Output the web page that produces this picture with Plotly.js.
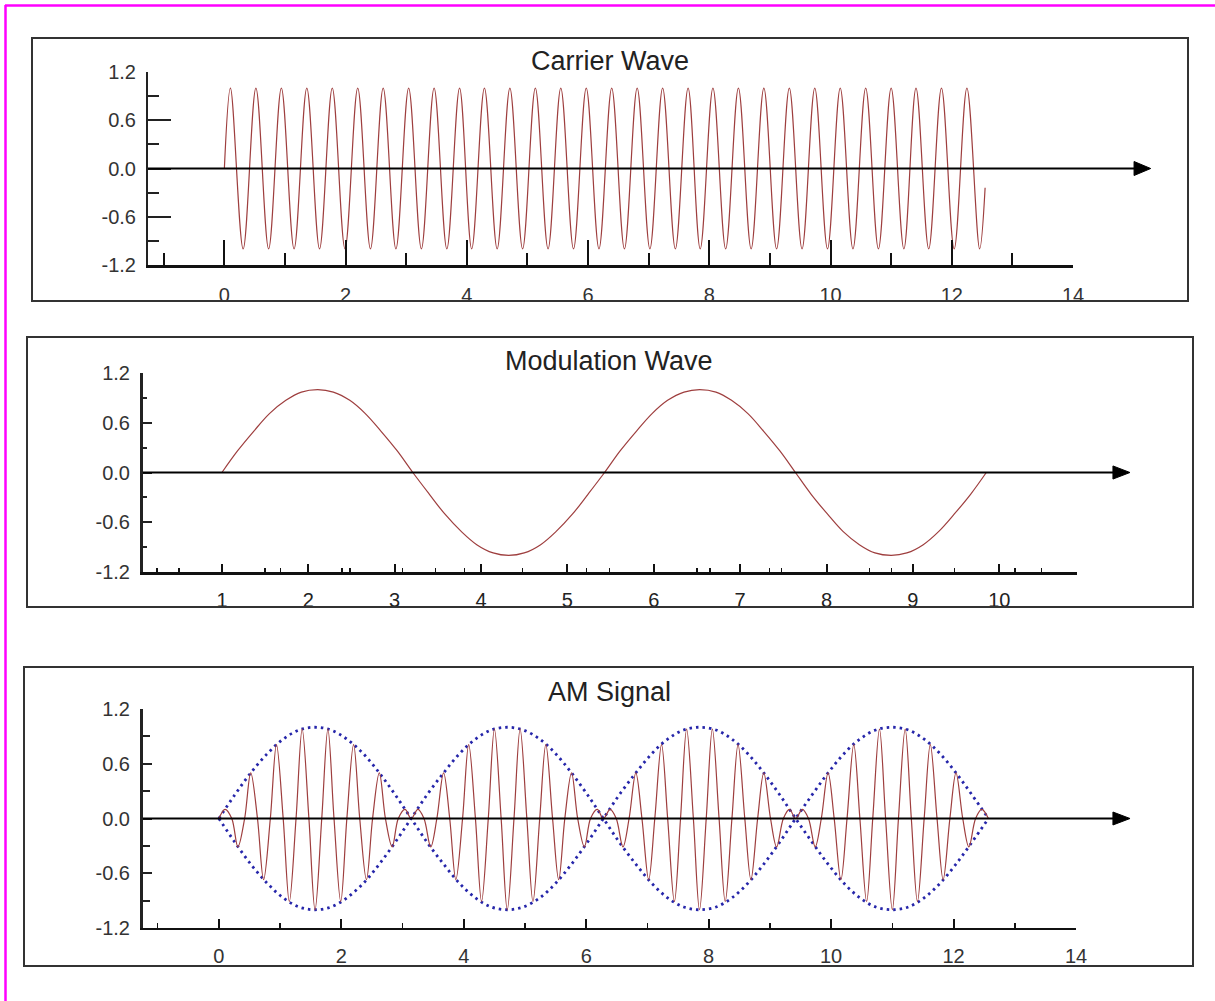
<!DOCTYPE html>
<html>
<head>
<meta charset="utf-8">
<script src="https://cdn.plot.ly/plotly-3.0.1.min.js"></script>
<style>
  html, body { margin: 0; padding: 0; background: #ffffff; }
  #chart { width: 1215px; height: 1001px; }
</style>
</head>
<body>
<div id="chart"></div>
<script>
// ---------------- DATA ----------------
// Panel titles
const panelTitles = ['Carrier Wave', 'Modulation Wave', 'AM Signal'];

// Y tick labels (shared by all three panels)
const yTickVals = [-1.2, -0.6, 0, 0.6, 1.2];
const yTickText = ['-1.2', '-0.6', '0.0', '0.6', '1.2'];
const yMinorVals = [-0.9, -0.3, 0.3, 0.9];

// Panel 2 irregular minor tick positions along its x axis
const modMinorVals = [0.25, 0.5, 1.5, 1.68, 2.39, 2.48, 3.09, 3.47, 3.81, 4.48, 5.22, 5.49,
  6.5, 6.65, 7.34, 7.48, 8.5, 8.75, 9.48, 10.18, 10.49];

// Carrier wave: start, every crest / trough, end
const carrierT = [0,
  0.10, 0.31, 0.52, 0.73, 0.94, 1.15, 1.36, 1.57, 1.78, 1.99,
  2.20, 2.41, 2.62, 2.83, 3.04, 3.25, 3.46, 3.67, 3.88, 4.08,
  4.29, 4.50, 4.71, 4.92, 5.13, 5.34, 5.55, 5.76, 5.97, 6.18,
  6.39, 6.60, 6.81, 7.02, 7.23, 7.44, 7.65, 7.85, 8.06, 8.27,
  8.48, 8.69, 8.90, 9.11, 9.32, 9.53, 9.74, 9.95, 10.16, 10.37,
  10.58, 10.79, 11.00, 11.21, 11.41, 11.62, 11.83, 12.04, 12.25, 12.46,
  12.55];
const carrierV = [0,
  1, -1, 1, -1, 1, -1, 1, -1, 1, -1,
  1, -1, 1, -1, 1, -1, 1, -1, 1, -1,
  1, -1, 1, -1, 1, -1, 1, -1, 1, -1,
  1, -1, 1, -1, 1, -1, 1, -1, 1, -1,
  1, -1, 1, -1, 1, -1, 1, -1, 1, -1,
  1, -1, 1, -1, 1, -1, 1, -1, 1, -1,
  -0.24];

// Modulation wave (panel 2 has its own x scale 1 .. 10)
const modT = [1, 1.18, 1.37, 1.55, 1.74, 1.92, 2.11, 2.29, 2.48, 2.66, 2.84, 3.03, 3.21,
  3.40, 3.58, 3.77, 3.95, 4.14, 4.32, 4.50, 4.69, 4.87, 5.06, 5.24, 5.43,
  5.61, 5.80, 5.98, 6.16, 6.35, 6.53, 6.72, 6.90, 7.09, 7.27, 7.46, 7.64,
  7.82, 8.01, 8.19, 8.38, 8.56, 8.75, 8.93, 9.12, 9.30, 9.48, 9.67, 9.85];
const modV = [0, 0.26, 0.5, 0.71, 0.87, 0.97, 1, 0.97, 0.87, 0.71, 0.5, 0.26, 0,
  -0.26, -0.5, -0.71, -0.87, -0.97, -1, -0.97, -0.87, -0.71, -0.5, -0.26, 0,
  0.26, 0.5, 0.71, 0.87, 0.97, 1, 0.97, 0.87, 0.71, 0.5, 0.26, 0,
  -0.26, -0.5, -0.71, -0.87, -0.97, -1, -0.97, -0.87, -0.71, -0.5, -0.26, 0];

// AM signal samples
const amT = [0,
  0.10, 0.21, 0.31, 0.42, 0.52, 0.63, 0.73, 0.84, 0.94, 1.05,
  1.15, 1.26, 1.36, 1.47, 1.57, 1.68, 1.78, 1.88, 1.99, 2.09,
  2.20, 2.30, 2.41, 2.51, 2.62, 2.72, 2.83, 2.93, 3.04, 3.14,
  3.25, 3.35, 3.46, 3.56, 3.67, 3.77, 3.87, 3.98, 4.08, 4.19,
  4.29, 4.40, 4.50, 4.61, 4.71, 4.82, 4.92, 5.03, 5.13, 5.24,
  5.34, 5.45, 5.55, 5.65, 5.76, 5.86, 5.97, 6.07, 6.18, 6.28,
  6.39, 6.49, 6.60, 6.70, 6.81, 6.91, 7.02, 7.12, 7.23, 7.33,
  7.44, 7.54, 7.64, 7.75, 7.85, 7.96, 8.06, 8.17, 8.27, 8.38,
  8.48, 8.59, 8.69, 8.80, 8.90, 9.01, 9.11, 9.22, 9.32, 9.42,
  9.53, 9.63, 9.74, 9.84, 9.95, 10.05, 10.16, 10.26, 10.37, 10.47,
  10.58, 10.68, 10.79, 10.89, 11.00, 11.10, 11.21, 11.31, 11.41, 11.52,
  11.62, 11.73, 11.83, 11.94, 12.04, 12.15, 12.25, 12.36, 12.46, 12.57];
const amV = [0,
  0.10, 0, -0.31, 0, 0.5, 0, -0.67, 0, 0.81, 0, -0.91, 0, 0.98, 0, -1, 0, 0.98, 0, -0.91, 0, 0.81, 0, -0.67, 0, 0.5, 0, -0.31, 0, 0.10, 0,
  0.10, 0, -0.31, 0, 0.5, 0, -0.67, 0, 0.81, 0, -0.91, 0, 0.98, 0, -1, 0, 0.98, 0, -0.91, 0, 0.81, 0, -0.67, 0, 0.5, 0, -0.31, 0, 0.10, 0,
  0.10, 0, -0.31, 0, 0.5, 0, -0.67, 0, 0.81, 0, -0.91, 0, 0.98, 0, -1, 0, 0.98, 0, -0.91, 0, 0.81, 0, -0.67, 0, 0.5, 0, -0.31, 0, 0.10, 0,
  0.10, 0, -0.31, 0, 0.5, 0, -0.67, 0, 0.81, 0, -0.91, 0, 0.98, 0, -1, 0, 0.98, 0, -0.91, 0, 0.81, 0, -0.67, 0, 0.5, 0, -0.31, 0, 0.10, 0];

// Envelope (dotted) of the AM signal
const envT = [0, 0.26, 0.52, 0.79, 1.05, 1.31, 1.57, 1.83, 2.09, 2.36, 2.62, 2.88, 3.14,
  3.40, 3.67, 3.93, 4.19, 4.45, 4.71, 4.97, 5.24, 5.50, 5.76, 6.02, 6.28,
  6.54, 6.81, 7.07, 7.33, 7.59, 7.85, 8.12, 8.38, 8.64, 8.90, 9.16, 9.42,
  9.69, 9.95, 10.21, 10.47, 10.73, 11.00, 11.26, 11.52, 11.78, 12.04, 12.30, 12.57];
const envUpper = [0, 0.26, 0.5, 0.71, 0.87, 0.97, 1, 0.97, 0.87, 0.71, 0.5, 0.26, 0,
  -0.26, -0.5, -0.71, -0.87, -0.97, -1, -0.97, -0.87, -0.71, -0.5, -0.26, 0,
  0.26, 0.5, 0.71, 0.87, 0.97, 1, 0.97, 0.87, 0.71, 0.5, 0.26, 0,
  -0.26, -0.5, -0.71, -0.87, -0.97, -1, -0.97, -0.87, -0.71, -0.5, -0.26, 0];
const envLower = [0, -0.26, -0.5, -0.71, -0.87, -0.97, -1, -0.97, -0.87, -0.71, -0.5, -0.26, 0,
  0.26, 0.5, 0.71, 0.87, 0.97, 1, 0.97, 0.87, 0.71, 0.5, 0.26, 0,
  -0.26, -0.5, -0.71, -0.87, -0.97, -1, -0.97, -0.87, -0.71, -0.5, -0.26, 0,
  0.26, 0.5, 0.71, 0.87, 0.97, 1, 0.97, 0.87, 0.71, 0.5, 0.26, 0];

// ---------------- STYLE / LAYOUT ----------------
const W = 1215, H = 1001;
const px = v => v / W;
const py = v => 1 - v / H;
const FONT = 'Liberation Sans, Arial, Helvetica, sans-serif';
const waveColor = 'rgb(158,62,62)';
const envColor = 'rgb(38,38,170)';

const traces = [
  { x: carrierT, y: carrierV, xaxis: 'x', yaxis: 'y', type: 'scatter', mode: 'lines',
    line: { color: waveColor, width: 1.2, shape: 'spline', simplify: false }, hoverinfo: 'skip' },
  { x: modT, y: modV, xaxis: 'x2', yaxis: 'y2', type: 'scatter', mode: 'lines',
    line: { color: waveColor, width: 1.2, shape: 'spline', simplify: false }, hoverinfo: 'skip' },
  { x: envT, y: envUpper, xaxis: 'x3', yaxis: 'y3', type: 'scatter', mode: 'lines',
    line: { color: envColor, width: 2.8, dash: '2.5px,4px', shape: 'spline', simplify: false }, hoverinfo: 'skip' },
  { x: envT, y: envLower, xaxis: 'x3', yaxis: 'y3', type: 'scatter', mode: 'lines',
    line: { color: envColor, width: 2.8, dash: '2.5px,4px', shape: 'spline', simplify: false }, hoverinfo: 'skip' },
  { x: amT, y: amV, xaxis: 'x3', yaxis: 'y3', type: 'scatter', mode: 'lines',
    line: { color: waveColor, width: 1.2, shape: 'spline', simplify: false }, hoverinfo: 'skip' }
];

function yAxisCfg(domain, anchor, len, minorLen, lw) {
  return {
    domain: domain, anchor: anchor, range: [-1.2, 1.2], fixedrange: true,
    tickmode: 'array', tickvals: yTickVals, ticktext: yTickText,
    ticks: 'inside', ticklen: len, tickwidth: 2, tickcolor: '#222',
    minor: { tickmode: 'array', tickvals: yMinorVals, ticks: 'inside', ticklen: minorLen, tickwidth: 2, tickcolor: '#222' },
    showline: true, linecolor: '#222', linewidth: lw,
    showgrid: false, zeroline: false,
    ticklabelstandoff: 6,
    tickfont: { family: FONT, size: 20, color: '#333' }
  };
}

const layout = {
  width: W, height: H,
  margin: { l: 0, r: 0, t: 0, b: 0, pad: 0 },
  paper_bgcolor: '#ffffff', plot_bgcolor: 'rgba(0,0,0,0)',
  showlegend: false,
  xaxis: {
    domain: [px(148), px(1073)], anchor: 'y', range: [-1.26, 14], fixedrange: true,
    tickmode: 'linear', tick0: 0, dtick: 2,
    ticks: 'inside', ticklen: 25, tickwidth: 2, tickcolor: '#111',
    minor: { tickmode: 'linear', tick0: 0, dtick: 1, ticks: 'inside', ticklen: 12, tickwidth: 2, tickcolor: '#111' },
    showline: true, linecolor: '#111', linewidth: 3,
    showgrid: false, zeroline: false, ticklabelstandoff: 10,
    tickfont: { family: FONT, size: 20, color: '#333' }
  },
  yaxis: yAxisCfg([py(265), py(72)], 'x', 23, 11, 2),
  xaxis2: {
    domain: [px(143), px(1077)], anchor: 'y2', range: [0.086, 10.9], fixedrange: true,
    tickmode: 'linear', tick0: 0, dtick: 1,
    ticks: 'inside', ticklen: 8, tickwidth: 2, tickcolor: '#111',
    minor: { tickmode: 'array', tickvals: modMinorVals, ticks: 'inside', ticklen: 4, tickwidth: 1.5, tickcolor: '#111' },
    showline: true, linecolor: '#111', linewidth: 3,
    showgrid: false, zeroline: false, ticklabelstandoff: 8,
    tickfont: { family: FONT, size: 20, color: '#222' }
  },
  yaxis2: yAxisCfg([py(572), py(373)], 'x2', 9, 4, 3),
  xaxis3: {
    domain: [px(143), px(1076)], anchor: 'y3', range: [-1.24, 14], fixedrange: true,
    tickmode: 'linear', tick0: 0, dtick: 2,
    ticks: 'inside', ticklen: 9, tickwidth: 2, tickcolor: '#111',
    minor: { tickmode: 'linear', tick0: 0, dtick: 1, ticks: 'inside', ticklen: 5, tickwidth: 1.5, tickcolor: '#111' },
    showline: true, linecolor: '#111', linewidth: 2,
    showgrid: false, zeroline: false, ticklabelstandoff: 9,
    tickfont: { family: FONT, size: 20, color: '#333' }
  },
  yaxis3: yAxisCfg([py(928), py(709)], 'x3', 9, 7, 3),
  shapes: [
    // magenta page frame (top and left)
    { type: 'line', xref: 'paper', yref: 'paper', x0: px(5), x1: 1, y0: py(5.5), y1: py(5.5), line: { color: '#ff00ff', width: 2.5 }, layer: 'above' },
    { type: 'line', xref: 'paper', yref: 'paper', x0: px(5.5), x1: px(5.5), y0: 0, y1: py(5), line: { color: '#ff00ff', width: 2.5 }, layer: 'above' },
    // panel boxes
    { type: 'rect', xref: 'paper', yref: 'paper', x0: px(32), x1: px(1188), y0: py(301), y1: py(38), line: { color: '#333', width: 2 }, layer: 'above' },
    { type: 'rect', xref: 'paper', yref: 'paper', x0: px(27), x1: px(1193), y0: py(607), y1: py(337), line: { color: '#333', width: 2 }, layer: 'above' },
    { type: 'rect', xref: 'paper', yref: 'paper', x0: px(24), x1: px(1193), y0: py(966), y1: py(667), line: { color: '#333', width: 2 }, layer: 'above' },
    // zero lines with arrow heads
    { type: 'line', xref: 'x domain', yref: 'y', x0: 0, x1: 1.07, y0: 0, y1: 0, line: { color: '#000', width: 2 }, layer: 'above' },
    { type: 'path', xref: 'x domain', yref: 'y', path: 'M1.066,0.087 L1.084,0 L1.066,-0.087 Z', fillcolor: '#000', line: { color: '#000', width: 1 }, layer: 'above' },
    { type: 'line', xref: 'x2 domain', yref: 'y2', x0: 0, x1: 1.042, y0: 0, y1: 0, line: { color: '#000', width: 2 }, layer: 'above' },
    { type: 'path', xref: 'x2 domain', yref: 'y2', path: 'M1.0385,0.079 L1.0567,0 L1.0385,-0.079 Z', fillcolor: '#000', line: { color: '#000', width: 1 }, layer: 'above' },
    { type: 'line', xref: 'x3 domain', yref: 'y3', x0: 0, x1: 1.043, y0: 0, y1: 0, line: { color: '#000', width: 2 }, layer: 'above' },
    { type: 'path', xref: 'x3 domain', yref: 'y3', path: 'M1.0396,0.071 L1.0579,0 L1.0396,-0.071 Z', fillcolor: '#000', line: { color: '#000', width: 1 }, layer: 'above' }
  ],
  annotations: [
    { text: panelTitles[0], xref: 'paper', yref: 'paper', x: px(610), y: py(61), xanchor: 'center', yanchor: 'middle', showarrow: false, font: { family: FONT, size: 27, color: '#222' } },
    { text: panelTitles[1], xref: 'paper', yref: 'paper', x: px(609), y: py(361), xanchor: 'center', yanchor: 'middle', showarrow: false, font: { family: FONT, size: 27, color: '#222' } },
    { text: panelTitles[2], xref: 'paper', yref: 'paper', x: px(609), y: py(692), xanchor: 'center', yanchor: 'middle', showarrow: false, font: { family: FONT, size: 27, color: '#222' } }
  ]
};

Plotly.newPlot('chart', traces, layout, { staticPlot: true, displayModeBar: false });
</script>
</body>
</html>
